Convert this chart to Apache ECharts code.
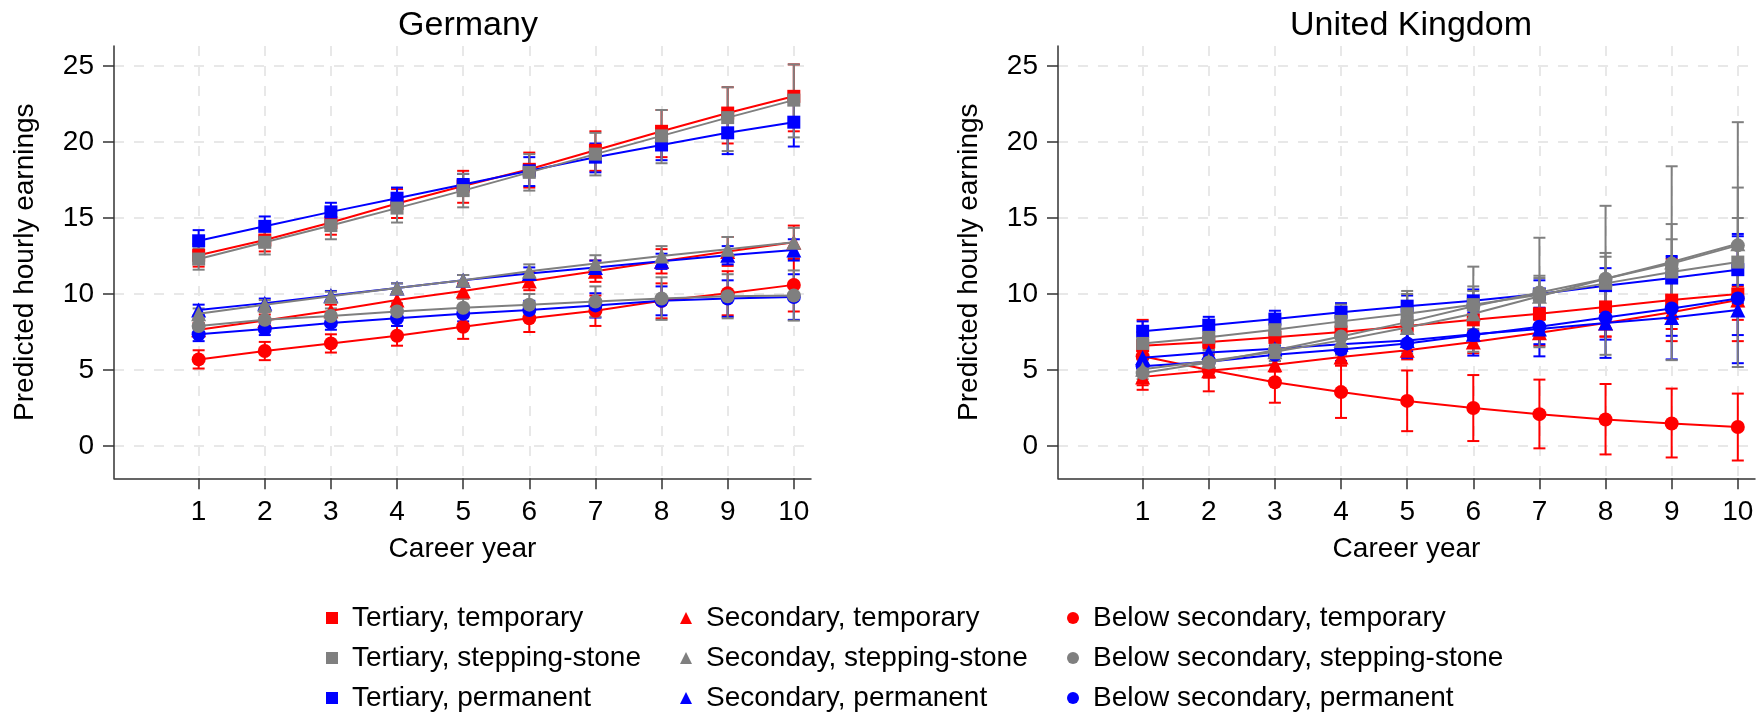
<!DOCTYPE html>
<html>
<head>
<meta charset="utf-8">
<script src="https://cdn.jsdelivr.net/npm/echarts@6/dist/echarts.min.js"></script>
<style>
  html, body { margin: 0; padding: 0; background: #fff; }
  #chart { width: 1759px; height: 717px; }
</style>
</head>
<body>
<div id="chart"></div>
<script>
// Career years on the x axis and tick values
const careerYears = [1, 2, 3, 4, 5, 6, 7, 8, 9, 10];
const yTickValues = [0, 5, 10, 15, 20, 25];
const panelTitles = ['Germany', 'United Kingdom'];

// ---------- Germany: predicted hourly earnings with 95% CI ----------
const deTertiaryTemporary      = [12.55, 13.55, 14.7, 15.95, 17.1, 18.2, 19.45, 20.7, 21.9, 23.0];
const deTertiaryTemporaryLow   = [11.8, 12.8, 13.9, 15.0, 16.0, 17.0, 18.1, 19.0, 19.9, 20.7];
const deTertiaryTemporaryHigh  = [13.3, 14.3, 15.5, 16.9, 18.1, 19.3, 20.7, 22.1, 23.6, 25.1];
const deTertiaryStepping       = [12.3, 13.4, 14.5, 15.65, 16.8, 18.0, 19.2, 20.4, 21.6, 22.75];
const deTertiarySteppingLow    = [11.6, 12.6, 13.6, 14.7, 15.7, 16.8, 17.8, 18.6, 19.4, 20.3];
const deTertiarySteppingHigh   = [13.0, 14.2, 15.4, 16.6, 17.9, 19.2, 20.6, 22.1, 23.6, 25.1];
const deTertiaryPermanent      = [13.5, 14.45, 15.4, 16.3, 17.2, 18.1, 19.0, 19.8, 20.6, 21.3];
const deTertiaryPermanentLow   = [12.8, 13.8, 14.7, 15.6, 16.5, 17.1, 18.0, 18.8, 19.2, 19.7];
const deTertiaryPermanentHigh  = [14.2, 15.1, 16.0, 17.0, 17.9, 19.0, 19.9, 20.9, 21.9, 22.9];

const deSecondaryTemporary     = [7.65, 8.26, 8.9, 9.6, 10.2, 10.85, 11.5, 12.15, 12.8, 13.4];
const deSecondaryTemporaryLow  = [7.2, 7.85, 8.5, 9.15, 9.7, 10.25, 10.8, 11.35, 11.85, 12.3];
const deSecondaryTemporaryHigh = [8.1, 8.65, 9.3, 10.05, 10.7, 11.45, 12.2, 12.95, 13.75, 14.5];
const deSecondaryStepping      = [8.7, 9.3, 9.85, 10.4, 10.9, 11.5, 12.0, 12.5, 12.95, 13.4];
const deSecondarySteppingLow   = [8.35, 9.0, 9.55, 10.1, 10.55, 11.05, 11.45, 11.85, 12.15, 12.45];
const deSecondarySteppingHigh  = [9.05, 9.6, 10.15, 10.7, 11.25, 11.95, 12.55, 13.15, 13.75, 14.35];
const deSecondaryPermanent     = [8.95, 9.4, 9.9, 10.4, 10.9, 11.35, 11.75, 12.15, 12.55, 12.9];
const deSecondaryPermanentLow  = [8.6, 9.1, 9.6, 10.1, 10.55, 10.95, 11.3, 11.65, 11.95, 12.2];
const deSecondaryPermanentHigh = [9.3, 9.7, 10.2, 10.7, 11.25, 11.75, 12.2, 12.65, 13.15, 13.6];

const deBelowTemporary         = [5.7, 6.25, 6.75, 7.25, 7.85, 8.4, 8.9, 9.55, 10.05, 10.6];
const deBelowTemporaryLow      = [5.1, 5.65, 6.15, 6.6, 7.05, 7.5, 7.9, 8.4, 8.6, 8.85];
const deBelowTemporaryHigh     = [6.3, 6.85, 7.35, 7.9, 8.65, 9.3, 9.9, 10.7, 11.5, 12.35];
const deBelowStepping          = [7.9, 8.3, 8.55, 8.85, 9.1, 9.3, 9.5, 9.7, 9.85, 9.9];
const deBelowSteppingLow       = [7.4, 7.8, 8.05, 8.3, 8.5, 8.6, 8.5, 8.3, 8.4, 8.25];
const deBelowSteppingHigh      = [8.4, 8.8, 9.05, 9.4, 9.7, 10.0, 10.5, 11.1, 11.3, 11.55];
const deBelowPermanent         = [7.35, 7.7, 8.1, 8.4, 8.7, 8.95, 9.25, 9.55, 9.7, 9.8];
const deBelowPermanentLow      = [6.9, 7.3, 7.65, 7.9, 8.2, 8.35, 8.45, 8.6, 8.5, 8.3];
const deBelowPermanentHigh     = [7.8, 8.1, 8.55, 8.9, 9.2, 9.55, 10.05, 10.5, 10.9, 11.3];

// ---------- United Kingdom ----------
const ukTertiaryTemporary      = [6.6, 6.85, 7.15, 7.5, 7.9, 8.3, 8.7, 9.15, 9.6, 10.0];
const ukTertiaryTemporaryLow   = [5.7, 6.0, 6.25, 6.5, 6.8, 7.0, 7.2, 7.2, 6.9, 6.9];
const ukTertiaryTemporaryHigh  = [7.5, 7.7, 8.05, 8.5, 9.0, 9.6, 10.2, 11.1, 12.3, 13.1];
const ukTertiaryStepping       = [6.75, 7.15, 7.65, 8.2, 8.7, 9.3, 9.95, 10.7, 11.45, 12.1];
const ukTertiarySteppingLow    = [6.0, 6.3, 6.7, 7.1, 7.4, 7.7, 8.85, 8.95, 9.3, 9.2];
const ukTertiarySteppingHigh   = [7.5, 8.0, 8.6, 9.3, 10.0, 10.5, 11.05, 12.45, 13.6, 15.0];
const ukTertiaryPermanent      = [7.55, 7.95, 8.35, 8.8, 9.2, 9.55, 10.0, 10.55, 11.05, 11.6];
const ukTertiaryPermanentLow   = [6.9, 7.4, 7.8, 8.2, 8.5, 8.8, 9.1, 9.4, 9.6, 9.4];
const ukTertiaryPermanentHigh  = [8.2, 8.5, 8.9, 9.4, 9.9, 10.3, 10.9, 11.7, 12.5, 13.8];

const ukSecondaryTemporary     = [4.55, 4.95, 5.35, 5.85, 6.3, 6.85, 7.45, 8.1, 8.8, 9.6];
const ukSecondaryTemporaryLow  = [4.0, 4.5, 4.9, 5.3, 5.7, 6.1, 6.6, 7.2, 7.7, 8.3];
const ukSecondaryTemporaryHigh = [5.1, 5.4, 5.8, 6.4, 6.9, 7.6, 8.3, 9.0, 9.9, 10.5];
const ukSecondaryStepping      = [5.05, 5.6, 6.2, 6.95, 7.8, 8.7, 9.85, 11.0, 12.1, 13.3];
const ukSecondarySteppingLow   = [4.4, 4.9, 5.4, 6.0, 6.5, 7.2, 8.5, 9.3, 9.6, 9.6];
const ukSecondarySteppingHigh  = [5.7, 6.3, 7.0, 7.9, 9.1, 10.2, 11.2, 12.7, 14.6, 17.0];
const ukSecondaryPermanent     = [5.8, 6.15, 6.4, 6.7, 6.95, 7.35, 7.7, 8.1, 8.45, 8.95];
const ukSecondaryPermanentLow  = [5.3, 5.7, 5.9, 6.1, 6.25, 6.5, 6.7, 7.0, 7.25, 7.3];
const ukSecondaryPermanentHigh = [6.3, 6.6, 6.9, 7.3, 7.65, 8.2, 8.7, 9.2, 9.65, 10.6];

const ukBelowTemporary         = [5.9, 5.0, 4.2, 3.55, 2.97, 2.5, 2.1, 1.75, 1.48, 1.25];
const ukBelowTemporaryLow      = [3.7, 3.6, 2.85, 1.85, 0.98, 0.33, -0.15, -0.55, -0.75, -0.95];
const ukBelowTemporaryHigh     = [8.3, 6.4, 5.6, 5.3, 4.97, 4.67, 4.37, 4.08, 3.78, 3.45];
const ukBelowStepping          = [4.8, 5.5, 6.3, 7.2, 8.15, 9.2, 10.1, 11.0, 12.0, 13.2];
const ukBelowSteppingLow       = [4.2, 4.9, 5.6, 6.3, 6.1, 6.2, 6.5, 6.0, 5.65, 5.2];
const ukBelowSteppingHigh      = [5.4, 6.1, 7.0, 8.1, 10.2, 11.8, 13.7, 15.8, 18.4, 21.3];
const ukBelowPermanent         = [5.25, 5.55, 6.0, 6.35, 6.75, 7.3, 7.85, 8.45, 9.05, 9.7];
const ukBelowPermanentLow      = [4.7, 5.0, 5.4, 5.6, 5.8, 5.95, 5.9, 5.8, 5.7, 5.45];
const ukBelowPermanentHigh     = [5.8, 6.1, 6.6, 7.1, 7.7, 8.65, 9.8, 11.1, 12.4, 13.95];

// Legend columns (education level), rows (contract type)
const legendColumns = [
  ['Tertiary, temporary', 'Tertiary, stepping-stone', 'Tertiary, permanent'],
  ['Secondary, temporary', 'Seconday, stepping-stone', 'Secondary, permanent'],
  ['Below secondary, temporary', 'Below secondary, stepping-stone', 'Below secondary, permanent']
];

const RED = '#ff0000', GRAY = '#7f7f7f', BLUE = '#0000ff';
const FONT = '"Liberation Sans", Arial, sans-serif';

// Group definitions: drawing order red -> blue -> gray (gray ends on top)
const groups = [
  { name: 'Tertiary, temporary', color: RED, symbol: 'rect', size: 13, z: 3,
    de: [deTertiaryTemporary, deTertiaryTemporaryLow, deTertiaryTemporaryHigh],
    uk: [ukTertiaryTemporary, ukTertiaryTemporaryLow, ukTertiaryTemporaryHigh] },
  { name: 'Secondary, temporary', color: RED, symbol: 'triangle', size: 15, z: 3,
    de: [deSecondaryTemporary, deSecondaryTemporaryLow, deSecondaryTemporaryHigh],
    uk: [ukSecondaryTemporary, ukSecondaryTemporaryLow, ukSecondaryTemporaryHigh] },
  { name: 'Below secondary, temporary', color: RED, symbol: 'circle', size: 14, z: 3,
    de: [deBelowTemporary, deBelowTemporaryLow, deBelowTemporaryHigh],
    uk: [ukBelowTemporary, ukBelowTemporaryLow, ukBelowTemporaryHigh] },
  { name: 'Tertiary, permanent', color: BLUE, symbol: 'rect', size: 13, z: 4,
    de: [deTertiaryPermanent, deTertiaryPermanentLow, deTertiaryPermanentHigh],
    uk: [ukTertiaryPermanent, ukTertiaryPermanentLow, ukTertiaryPermanentHigh] },
  { name: 'Secondary, permanent', color: BLUE, symbol: 'triangle', size: 15, z: 4,
    de: [deSecondaryPermanent, deSecondaryPermanentLow, deSecondaryPermanentHigh],
    uk: [ukSecondaryPermanent, ukSecondaryPermanentLow, ukSecondaryPermanentHigh] },
  { name: 'Below secondary, permanent', color: BLUE, symbol: 'circle', size: 14, z: 4,
    de: [deBelowPermanent, deBelowPermanentLow, deBelowPermanentHigh],
    uk: [ukBelowPermanent, ukBelowPermanentLow, ukBelowPermanentHigh] },
  { name: 'Tertiary, stepping-stone', color: GRAY, symbol: 'rect', size: 13, z: 5,
    de: [deTertiaryStepping, deTertiarySteppingLow, deTertiarySteppingHigh],
    uk: [ukTertiaryStepping, ukTertiarySteppingLow, ukTertiarySteppingHigh] },
  { name: 'Seconday, stepping-stone', color: GRAY, symbol: 'triangle', size: 15, z: 5,
    de: [deSecondaryStepping, deSecondarySteppingLow, deSecondarySteppingHigh],
    uk: [ukSecondaryStepping, ukSecondarySteppingLow, ukSecondarySteppingHigh] },
  { name: 'Below secondary, stepping-stone', color: GRAY, symbol: 'circle', size: 14, z: 5,
    de: [deBelowStepping, deBelowSteppingLow, deBelowSteppingHigh],
    uk: [ukBelowStepping, ukBelowSteppingLow, ukBelowSteppingHigh] }
];

const symbolOf = {};
groups.forEach(g => { symbolOf[g.name] = g.symbol; });

// Vertical capped bar from low to high at each career year
function renderCap(color) {
  return function (params, api) {
    const x = api.value(0);
    const a = api.coord([x, api.value(1)]);
    const b = api.coord([x, api.value(2)]);
    const half = 6;
    const style = { stroke: color, lineWidth: 2 };
    return {
      type: 'group',
      children: [
        { type: 'line', shape: { x1: a[0], y1: a[1], x2: b[0], y2: b[1] }, style },
        { type: 'line', shape: { x1: a[0] - half, y1: a[1], x2: a[0] + half, y2: a[1] }, style },
        { type: 'line', shape: { x1: b[0] - half, y1: b[1], x2: b[0] + half, y2: b[1] }, style }
      ]
    };
  };
}

const series = [];
['de', 'uk'].forEach((key, p) => {
  groups.forEach(g => {
    const [mean] = g[key];
    series.push({
      name: g.name, type: 'line', xAxisIndex: p, yAxisIndex: p,
      data: careerYears.map((x, i) => [x, mean[i]]),
      symbol: g.symbol, symbolSize: g.size, showAllSymbol: true,
      itemStyle: { color: g.color }, lineStyle: { color: g.color, width: 2 },
      z: g.z, animation: false, emphasis: { disabled: true }
    });
  });
  groups.forEach(g => {
    const [, low, high] = g[key];
    series.push({
      name: g.name, type: 'custom', xAxisIndex: p, yAxisIndex: p,
      data: careerYears.map((x, i) => [x, low[i], high[i]]),
      encode: { x: 0, y: [1, 2] },
      renderItem: renderCap(g.color), itemStyle: { color: g.color },
      z: 2, animation: false, silent: true
    });
  });
});

const grids = [
  { left: 114, top: 46, width: 697, height: 432.3 },
  { left: 1058, top: 46, width: 697, height: 432.3 }
];

const gridLine = { show: true, lineStyle: { color: '#e8e8e8', width: 2, type: [10, 10] } };
const axisLineStyle = { show: true, onZero: false, lineStyle: { color: '#333', width: 1.5 } };
const tickStyle = { color: '#333', width: 1.5 };

const xAxes = grids.map((_, p) => ({
  type: 'value', gridIndex: p, min: -0.28, max: 10.26,
  axisLine: axisLineStyle,
  axisTick: { show: true, length: 11, inside: false, customValues: careerYears, lineStyle: tickStyle },
  axisLabel: { customValues: careerYears, fontSize: 28, color: '#000', margin: 20, fontFamily: FONT },
  splitLine: gridLine,
  name: 'Career year', nameLocation: 'middle', nameGap: 57,
  nameTextStyle: { fontSize: 28, color: '#000', fontFamily: FONT }
}));

const yAxes = grids.map((_, p) => ({
  type: 'value', gridIndex: p, min: -2.12, max: 26.31,
  axisLine: axisLineStyle,
  axisTick: { show: true, length: 11, inside: false, customValues: yTickValues, lineStyle: tickStyle },
  axisLabel: { customValues: yTickValues, fontSize: 28, color: '#000', margin: 20, fontFamily: FONT },
  splitLine: gridLine,
  name: 'Predicted hourly earnings', nameLocation: 'middle', nameGap: 75,
  nameTextStyle: { fontSize: 28, color: '#000', fontFamily: FONT }
}));

const legendLefts = [326, 680, 1067];
const legends = legendColumns.map((names, c) => ({
  orient: 'vertical', left: legendLefts[c], top: 603, padding: 0,
  itemWidth: 12, itemHeight: 12, itemGap: 10,
  selectedMode: false,
  data: names.map(n => ({ name: n, icon: symbolOf[n] })),
  textStyle: { fontSize: 28, color: '#000', fontFamily: FONT, lineHeight: 30, padding: [0, 0, 0, 9] }
}));

const chart = echarts.init(document.getElementById('chart'), null, { renderer: 'canvas' });
chart.setOption({
  backgroundColor: '#fff',
  animation: false,
  title: [
    { text: panelTitles[0], left: 463, top: 4, textAlign: 'center',
      textStyle: { fontSize: 34, fontWeight: 'normal', color: '#000', fontFamily: FONT } },
    { text: panelTitles[1], left: 1406, top: 4, textAlign: 'center',
      textStyle: { fontSize: 34, fontWeight: 'normal', color: '#000', fontFamily: FONT } }
  ],
  legend: legends,
  grid: grids,
  xAxis: xAxes,
  yAxis: yAxes,
  series: series
});
</script>
</body>
</html>
